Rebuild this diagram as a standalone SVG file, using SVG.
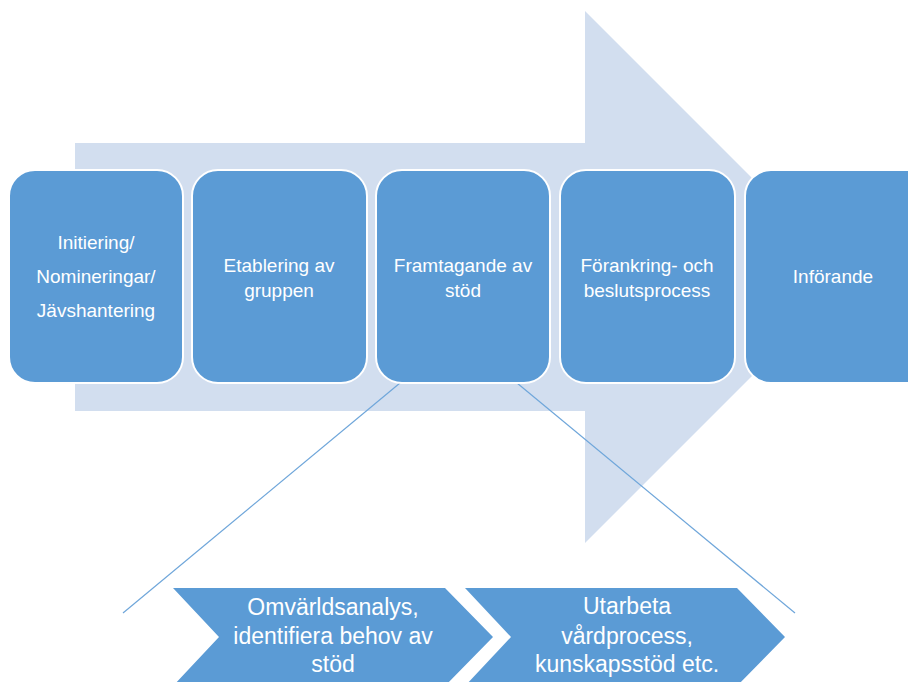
<svg xmlns="http://www.w3.org/2000/svg" width="908" height="682" viewBox="0 0 908 682">
<style>
.bg{fill:#D2DEEF}
.box{fill:#5B9BD5;stroke:#FFFFFF;stroke-width:2}
.chev{fill:#5B9BD5}
.lnk{stroke:#6FA6DA;stroke-width:1.2;fill:none}
.t{font-family:"Liberation Sans",Arial,sans-serif;font-size:19px;fill:#FFFFFF;text-anchor:middle}
.tc{font-family:"Liberation Sans",Arial,sans-serif;font-size:23px;fill:#FFFFFF;text-anchor:middle}
</style>
<rect width="908" height="682" fill="#FFFFFF"/>
<polygon id="big-arrow" class="bg" points="75,143 585,143 585,11 851,277 585,543 585,411 75,411"/>
<g id="connectors">
<line class="lnk" x1="400" y1="383" x2="123" y2="613"/>
<line class="lnk" x1="517" y1="383" x2="795" y2="613"/>
</g>
<g id="n1">
<rect class="box" x="9" y="170" width="174" height="213" rx="26"/>
<text class="t" x="96" y="249">Initiering/</text>
<text class="t" x="96" y="283">Nomineringar/</text>
<text class="t" x="96" y="317">Jävshantering</text>
</g>
<g id="n2">
<rect class="box" x="192" y="170" width="175" height="213" rx="26"/>
<text class="t" x="279" y="272">Etablering av</text>
<text class="t" x="279" y="297">gruppen</text>
</g>
<g id="n3">
<rect class="box" x="376" y="170" width="174" height="213" rx="26"/>
<text class="t" x="463" y="272">Framtagande av</text>
<text class="t" x="463" y="297">stöd</text>
</g>
<g id="n4">
<rect class="box" x="560" y="170" width="175" height="213" rx="26"/>
<text class="t" x="647" y="272">Förankring- och</text>
<text class="t" x="647" y="297">beslutsprocess</text>
</g>
<g id="n5">
<rect class="box" x="745" y="170" width="200" height="213" rx="26"/>
<text class="t" x="833" y="283">Införande</text>
</g>
<g id="c1">
<polygon class="chev" points="173,588 445,588 493,637 445,686 173,686 219,637"/>
<text class="tc" x="333" y="615">Omvärldsanalys,</text>
<text class="tc" x="333" y="644">identifiera behov av</text>
<text class="tc" x="333" y="672">stöd</text>
</g>
<g id="c2">
<polygon class="chev" points="465,588 737,588 785,637 737,686 465,686 511,637"/>
<text class="tc" x="627" y="614">Utarbeta</text>
<text class="tc" x="627" y="644">vårdprocess,</text>
<text class="tc" x="627" y="672">kunskapsstöd etc.</text>
</g>
</svg>
